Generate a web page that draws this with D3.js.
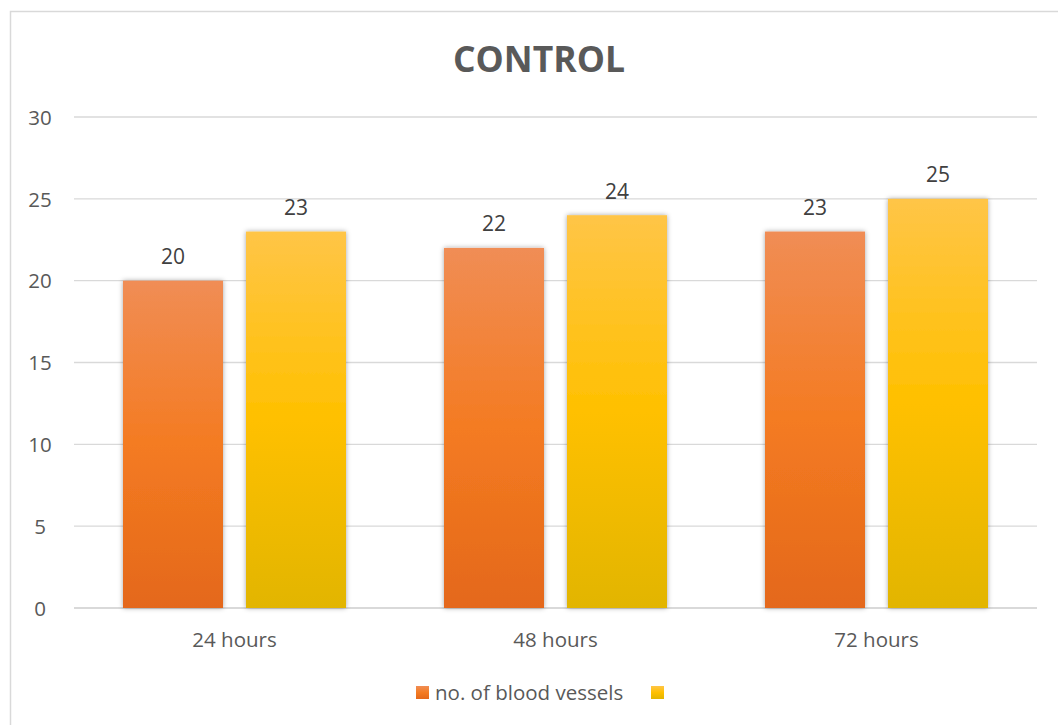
<!DOCTYPE html>
<html>
<head>
<meta charset="utf-8">
<script src="https://cdn.jsdelivr.net/npm/d3@7"></script>
<style>
  html, body { margin: 0; padding: 0; background: #fff; }
  svg { display: block; }
</style>
</head>
<body>
<svg id="chart" width="1058" height="725"></svg>
<script>
// Chart data
const categories = ["24 hours", "48 hours", "72 hours"];
const seriesNames = ["no. of blood vessels", ""];
const vesselCounts = [20, 22, 23];
const secondSeries = [23, 24, 25];
const yTicks = [0, 5, 10, 15, 20, 25, 30];

const svg = d3.select("#chart");
const W = 1058, H = 725;
const font = "'Open Sans', 'Liberation Sans', sans-serif";

// Gradients and shadow
const defs = svg.append("defs");
function grad(id, stops) {
  const g = defs.append("linearGradient").attr("id", id)
    .attr("x1", 0).attr("y1", 0).attr("x2", 0).attr("y2", 1);
  stops.forEach(s => g.append("stop").attr("offset", s[0]).attr("stop-color", s[1]));
}
grad("gOrange", [[0, "#F08D55"], [0.5, "#F47B22"], [1, "#E4681A"]]);
grad("gYellow", [[0, "#FFC547"], [0.5, "#FFC000"], [1, "#E2B500"]]);
const f = defs.append("filter").attr("id", "shadow")
  .attr("x", "-20%").attr("y", "-10%").attr("width", "140%").attr("height", "120%");
f.append("feDropShadow").attr("dx", 0).attr("dy", 0).attr("stdDeviation", 2.5)
  .attr("flood-color", "#000").attr("flood-opacity", 0.35);

// Outer frame
svg.append("rect").attr("x", 10.5).attr("y", 11.5).attr("width", W).attr("height", H)
  .attr("fill", "#fff").attr("stroke", "#D9D9D9").attr("stroke-width", 1.5);

const margin = { left: 74, right: 1037, top: 117, bottom: 608 };

const x = d3.scaleBand().domain(categories).range([margin.left, margin.right]).paddingInner(0).paddingOuter(0);
const y = d3.scaleLinear().domain([0, 30]).range([margin.bottom, margin.top]);

// Two bars of width barW separated by gap inside each category
const barW = 100, gap = 23;
const groupW = 2 * barW + gap;
const xs = d3.scaleBand().domain([0, 1]).range([0, groupW]).paddingInner(gap / (barW + gap)).paddingOuter(0);

// Gridlines
svg.append("g").selectAll("line").data(yTicks).join("line")
  .attr("x1", margin.left).attr("x2", margin.right)
  .attr("y1", d => y(d)).attr("y2", d => y(d))
  .attr("stroke", "#D9D9D9").attr("stroke-width", d => d === 0 ? 2 : 1.3);

// Y axis tick labels
const yAxis = d3.axisLeft(y).tickValues(yTicks).tickSize(0).tickPadding(0);
const gy = svg.append("g").attr("transform", "translate(40,0)").call(yAxis);
gy.select(".domain").remove();
gy.selectAll("text").attr("font-family", font).attr("font-size", 20.5).attr("fill", "#595959")
  .attr("text-anchor", "middle").attr("dy", "0.35em");

// X axis labels
const xAxis = d3.axisBottom(x).tickSize(0).tickPadding(0);
const gx = svg.append("g").attr("transform", `translate(0,${margin.bottom + 32})`).call(xAxis);
gx.select(".domain").remove();
gx.selectAll("text").attr("font-family", font).attr("font-size", 20.5).attr("fill", "#595959").attr("dy", "0.35em");

// Bars
const series = [vesselCounts, secondSeries];
const fills = ["url(#gOrange)", "url(#gYellow)"];
series.forEach((vals, si) => {
  const g = svg.append("g");
  const offset = d => x(d) + (x.bandwidth() - groupW) / 2 + xs(si);
  g.selectAll("rect").data(categories).join("rect")
    .attr("x", d => offset(d))
    .attr("y", (d, i) => y(vals[i]))
    .attr("width", xs.bandwidth())
    .attr("height", (d, i) => y(0) - y(vals[i]))
    .attr("fill", fills[si])
    .attr("filter", "url(#shadow)");
  g.selectAll("text").data(categories).join("text")
    .attr("x", d => offset(d) + xs.bandwidth() / 2)
    .attr("y", (d, i) => y(vals[i]) - 24)
    .attr("text-anchor", "middle")
    .attr("dy", "0.35em")
    .attr("font-family", font).attr("font-size", 21).attr("fill", "#404040")
    .text((d, i) => vals[i]);
});

// Title
svg.append("text").attr("x", 539).attr("y", 60).attr("text-anchor", "middle").attr("dy", "0.35em")
  .attr("font-family", font).attr("font-size", 35.5).attr("font-weight", "bold").attr("fill", "#595959")
  .text("CONTROL");

// Legend
const legend = svg.append("g");
legend.append("rect").attr("x", 416).attr("y", 686).attr("width", 13).attr("height", 13).attr("fill", "url(#gOrange)");
legend.append("text").attr("x", 435).attr("y", 692.5).attr("dy", "0.35em")
  .attr("font-family", font).attr("font-size", 20.5).attr("fill", "#595959").text(seriesNames[0]);
legend.append("rect").attr("x", 651).attr("y", 686).attr("width", 13).attr("height", 13).attr("fill", "url(#gYellow)");
legend.append("text").attr("x", 670).attr("y", 692.5).attr("dy", "0.35em")
  .attr("font-family", font).attr("font-size", 20.5).attr("fill", "#595959").text(seriesNames[1]);
</script>
</body>
</html>
